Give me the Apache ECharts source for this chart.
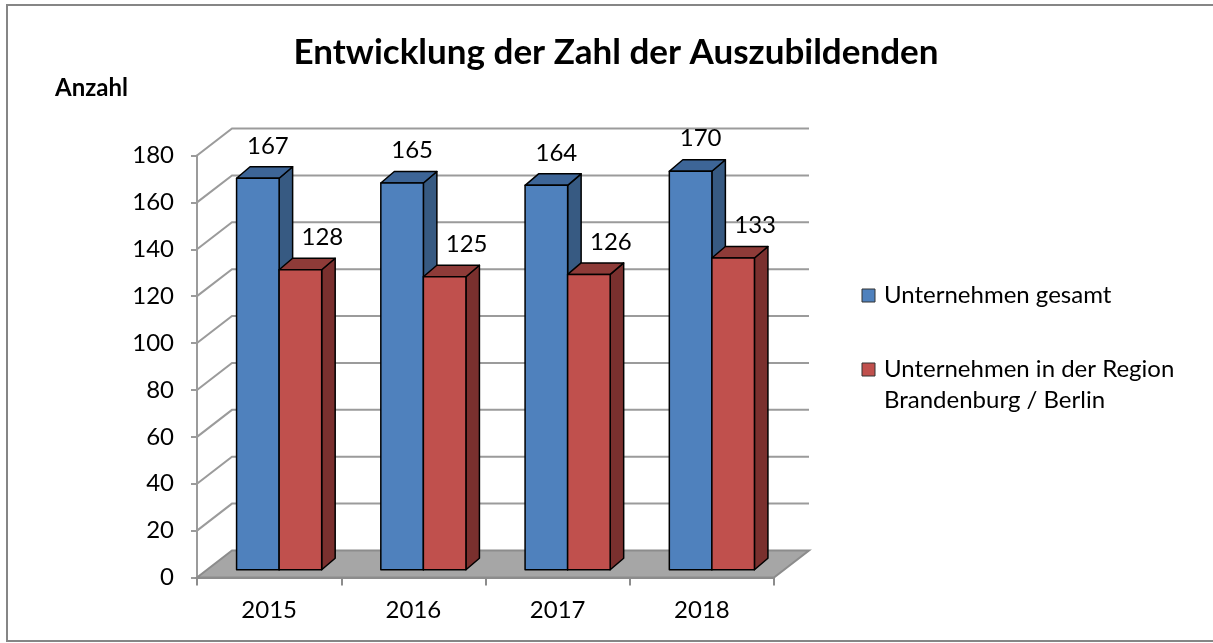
<!DOCTYPE html>
<html>
<head>
<meta charset="utf-8">
<script src="https://cdn.jsdelivr.net/npm/echarts@6/dist/echarts.min.js"></script>
<style>
  html, body { margin: 0; padding: 0; background: #fff; }
  #main { width: 1213px; height: 643px; }
</style>
</head>
<body>
<div id="main"></div>
<script>
// Daten
const years = ['2015', '2016', '2017', '2018'];
const seriesNames = ['Unternehmen gesamt', 'Unternehmen in der Region\nBrandenburg / Berlin'];
const totalValues = [167, 165, 164, 170];
const regionValues = [128, 125, 126, 133];
const yTicks = [0, 20, 40, 60, 80, 100, 120, 140, 160, 180];

// Farben (Vorderseite, Deckel, Seite)
const frontColors = ['#4F81BD', '#C0504D'];
const topColors = ['#3D6597', '#8E3B38'];
const sideColors = ['#375A82', '#7A302E'];

const FONT = 'Lato, "Open Sans", sans-serif';
const WALL_DX = 35, WALL_DY = -27;   // Tiefe der Rueckwand
const PLANE_DX = 10, PLANE_DY = -7.7; // Ebene der Saeulen
const BAR_DX = 13.5, BAR_DY = -11.5;  // Tiefe der Saeulen
const BAR_RATIO = 0.295;
const GRID_COLOR = '#9B9B9B';

const chart = echarts.init(document.getElementById('main'));

// Boden, Seitenwand und Gitterlinien
function renderWalls(params, api) {
  const v = api.value(1);
  const c = api.coord([0, v]);
  const bw = api.size([1, 0])[0];
  const x0 = c[0] - bw / 2;
  const x1 = x0 + bw * years.length;
  const y = c[1];
  if (v === 0) {
    return {
      type: 'polygon',
      shape: { points: [[x0, y], [x0 + WALL_DX, y + WALL_DY], [x1 + WALL_DX, y + WALL_DY], [x1, y]] },
      style: { fill: '#A6A6A6', stroke: '#8C8C8C', lineWidth: 2 }
    };
  }
  return {
    type: 'polyline',
    shape: { points: [[x0, y], [x0 + WALL_DX, y + WALL_DY], [x1 + WALL_DX, y + WALL_DY]] },
    style: { fill: null, stroke: GRID_COLOR, lineWidth: 2 }
  };
}

function makeBarRenderer(idx) {
  return function (params, api) {
    const cat = api.value(0);
    const val = api.value(1);
    const top = api.coord([cat, val]);
    const base = api.coord([cat, 0]);
    const bw = api.size([1, 0])[0];
    const w = bw * BAR_RATIO;
    const xl = top[0] - w + idx * w + PLANE_DX;
    const xr = xl + w;
    const yt = top[1] + PLANE_DY;
    const yb = base[1] + PLANE_DY;
    const stroke = { stroke: '#000', lineWidth: 1.5, lineJoin: 'round' };
    return {
      type: 'group',
      children: [
        {
          type: 'polygon',
          shape: { points: [[xr, yt], [xr + BAR_DX, yt + BAR_DY], [xr + BAR_DX, yb + BAR_DY], [xr, yb]] },
          style: Object.assign({ fill: sideColors[idx] }, stroke)
        },
        {
          type: 'polygon',
          shape: { points: [[xl, yt], [xl + BAR_DX, yt + BAR_DY], [xr + BAR_DX, yt + BAR_DY], [xr, yt]] },
          style: Object.assign({ fill: topColors[idx] }, stroke)
        },
        {
          type: 'rect',
          shape: { x: xl, y: yt, width: w, height: yb - yt },
          style: Object.assign({ fill: frontColors[idx] }, stroke)
        },
        {
          type: 'text',
          style: {
            text: String(val),
            x: (xl + xr) / 2 + (idx === 0 ? 10 : 22),
            y: yt + BAR_DY - 21,
            align: 'center',
            verticalAlign: 'middle',
            fill: '#000',
            font: '24px ' + FONT
          }
        }
      ]
    };
  };
}

const legendItems = [];
seriesNames.forEach(function (name, i) {
  const cy = i === 0 ? 296 : 370;
  legendItems.push({
    type: 'rect',
    shape: { x: 862, y: cy - 7, width: 13, height: 13 },
    style: { fill: frontColors[i], stroke: '#333', lineWidth: 1 }
  });
  legendItems.push({
    type: 'text',
    x: 884,
    y: cy - 16,
    style: { text: name, fill: '#000', font: '24px ' + FONT, lineHeight: 31 }
  });
});

const option = {
  animation: false,
  backgroundColor: '#fff',
  title: {
    text: 'Entwicklung der Zahl der Auszubildenden',
    left: 611,
    textAlign: 'center',
    top: 30,
    textStyle: { fontFamily: FONT, fontWeight: 'bold', fontSize: 35, color: '#000' }
  },
  grid: { left: 197, top: 155.5, width: 577, height: 422 },
  xAxis: {
    type: 'category',
    data: years,
    axisLine: { lineStyle: { color: '#8C8C8C', width: 2 } },
    axisTick: { show: true, length: 8, lineStyle: { color: '#8C8C8C', width: 2 } },
    axisLabel: { color: '#000', fontFamily: FONT, fontSize: 24, margin: 21 },
    splitLine: { show: false }
  },
  yAxis: {
    type: 'value',
    min: 0,
    max: 180,
    interval: 20,
    axisLine: { show: true, lineStyle: { color: GRID_COLOR, width: 2 } },
    axisTick: { show: true, length: 6, lineStyle: { color: GRID_COLOR, width: 2 } },
    axisLabel: { color: '#000', fontFamily: FONT, fontSize: 24, margin: 23 },
    splitLine: { show: false }
  },
  graphic: [
    {
      type: 'rect',
      shape: { x: 7, y: 5, width: 1215, height: 636 },
      style: { fill: null, stroke: '#868686', lineWidth: 2 },
      z: -1
    },
    {
      type: 'text',
      x: 55,
      y: 76,
      style: { text: 'Anzahl', fill: '#000', font: 'bold 24px ' + FONT }
    }
  ].concat(legendItems),
  series: [
    {
      type: 'custom',
      name: 'walls',
      renderItem: renderWalls,
      data: yTicks.map(function (v) { return [0, v]; }),
      encode: { x: 0, y: 1 },
      clip: false,
      silent: true,
      z: 1
    },
    {
      type: 'custom',
      name: seriesNames[0],
      renderItem: makeBarRenderer(0),
      data: years.map(function (y, i) { return [i, totalValues[i]]; }),
      encode: { x: 0, y: 1 },
      clip: false,
      z: 2
    },
    {
      type: 'custom',
      name: seriesNames[1],
      renderItem: makeBarRenderer(1),
      data: years.map(function (y, i) { return [i, regionValues[i]]; }),
      encode: { x: 0, y: 1 },
      clip: false,
      z: 3
    }
  ]
};

chart.setOption(option);
</script>
</body>
</html>
